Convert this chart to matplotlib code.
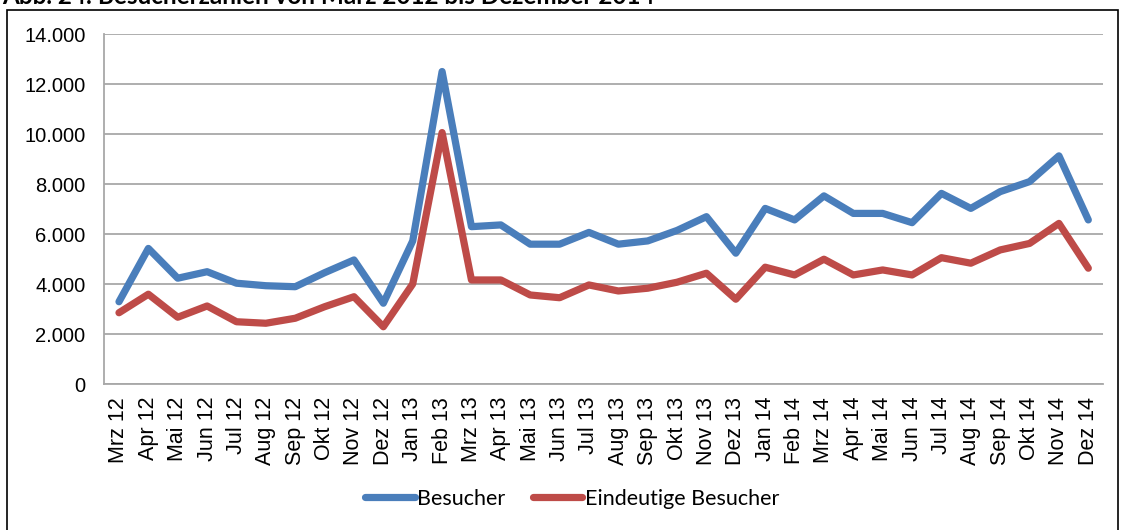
import matplotlib
matplotlib.use("Agg")
import matplotlib.pyplot as plt
from matplotlib.patches import Rectangle
from matplotlib.ticker import FuncFormatter

months = ["Mrz 12", "Apr 12", "Mai 12", "Jun 12", "Jul 12", "Aug 12", "Sep 12", "Okt 12",
          "Nov 12", "Dez 12", "Jan 13", "Feb 13", "Mrz 13", "Apr 13", "Mai 13", "Jun 13",
          "Jul 13", "Aug 13", "Sep 13", "Okt 13", "Nov 13", "Dez 13", "Jan 14", "Feb 14",
          "Mrz 14", "Apr 14", "Mai 14", "Jun 14", "Jul 14", "Aug 14", "Sep 14", "Okt 14",
          "Nov 14", "Dez 14"]

besucher = [3300, 5430, 4240, 4500, 4040, 3940, 3900, 4460, 4970, 3240, 5730, 12500,
            6300, 6370, 5600, 5600, 6070, 5600, 5730, 6150, 6700, 5240, 7030, 6570,
            7530, 6830, 6830, 6460, 7630, 7030, 7700, 8100, 9130, 6570]

eindeutige = [2860, 3600, 2680, 3130, 2500, 2440, 2640, 3100, 3500, 2300, 4010, 10060,
              4170, 4170, 3570, 3460, 3970, 3730, 3840, 4080, 4440, 3400, 4680, 4370,
              5000, 4370, 4570, 4370, 5060, 4840, 5370, 5630, 6430, 4640]

y_ticks = [0, 2000, 4000, 6000, 8000, 10000, 12000, 14000]

title = "Abb. 24: Besucherzahlen von März 2012 bis Dezember 2014"

W, H = 1122, 530
fig = plt.figure(figsize=(W / 100, H / 100), dpi=100)

# outer frame
frame = Rectangle((7.3 / W, -0.1), (1118 - 7.3) / W, 1 - 9.5 / H + 0.1,
                  transform=fig.transFigure, fill=False, edgecolor="black", lw=1.2)
fig.patches.append(frame)

# title (partly cut off at the top, as in the reference)
fig.text(2 / W, 1 - 4.5 / H, title, fontsize=17.5, fontweight="bold",
         family=["Lato", "DejaVu Sans"], va="baseline", ha="left")

left, right, top, bottom = 104.3, 1103, 34, 384.3
ax = fig.add_axes([left / W, 1 - bottom / H, (right - left) / W, (bottom - top) / H])

x = list(range(len(months)))
ax.plot(x, besucher, color="#4A7EBB", lw=5.2, solid_joinstyle="round",
        solid_capstyle="round", label="Besucher", zorder=3)
ax.plot(x, eindeutige, color="#BE4B48", lw=5.2, solid_joinstyle="round",
        solid_capstyle="round", label="Eindeutige Besucher", zorder=3)

ax.set_xlim(-0.5, len(months) - 0.5)
ax.set_ylim(0, 14000)
ax.set_yticks(y_ticks)
ax.yaxis.set_major_formatter(FuncFormatter(lambda v, p: f"{int(v):,}".replace(",", ".")))
ax.set_xticks(x)
ax.set_xticklabels(months, rotation=90, family="Liberation Sans", fontsize=15.5)
for lbl in ax.get_yticklabels():
    lbl.set_family("Liberation Sans")
    lbl.set_fontsize(14.5)
ax.tick_params(axis="x", length=0, pad=9)
ax.tick_params(axis="y", length=0, pad=13.5)

ax.grid(axis="y", color="#A8A8A8", lw=1.3)
ax.set_axisbelow(True)
for s in ["top", "right"]:
    ax.spines[s].set_visible(False)
ax.spines["left"].set_color("#A8A8A8")
ax.spines["left"].set_linewidth(1.3)
ax.spines["bottom"].set_color("#A8A8A8")
ax.spines["bottom"].set_linewidth(1.3)

leg = fig.legend(loc="center", bbox_to_anchor=(572 / W, 1 - 499 / H), ncol=2, frameon=False,
                 prop={"family": ["Lato", "DejaVu Sans"], "size": 15.5},
                 handlelength=2.3, handletextpad=0.1, columnspacing=1.3)

fig.savefig("out.png", dpi=100)
